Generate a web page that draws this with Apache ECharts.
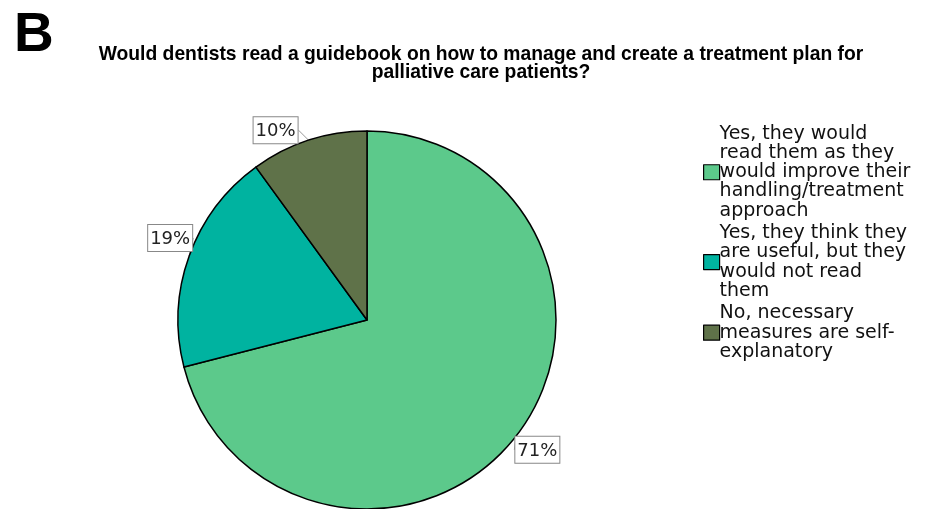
<!DOCTYPE html>
<html>
<head>
<meta charset="utf-8">
<script src="https://cdn.jsdelivr.net/npm/echarts@6/dist/echarts.min.js"></script>
<style>
  html, body { margin: 0; padding: 0; background: #fff; }
  #chart { width: 930px; height: 509px; }
</style>
</head>
<body>
<div id="chart"></div>
<script>
// Survey answers and their shares (%)
const answers = [
  'Yes, they would\nread them as they\nwould improve their\nhandling/treatment\napproach',
  'Yes, they think they\nare useful, but they\nwould not read\nthem',
  'No, necessary\nmeasures are self-\nexplanatory'
];
const shares = [71, 19, 10];
const sliceColors = ['#5CC98B', '#00B3A0', '#5F7249'];

// small offsets of each value box from its slice's outer-arc anchor
const boxNudge = [[-1, 1], [3, -5], [-11, 3]];

const chart = echarts.init(document.getElementById('chart'));

chart.setOption({
  animation: false,
  backgroundColor: '#ffffff',
  title: [
    {
      text: 'B',
      left: 9,
      top: 3,
      textStyle: { fontFamily: 'Liberation Sans Narrow, Liberation Sans', fontWeight: 'bold', fontSize: 55, color: '#000' }
    },
    {
      text: 'Would dentists read a guidebook on how to manage and create a treatment plan for\npalliative care patients?',
      left: 476,
      top: 41,
      textAlign: 'center',
      textStyle: {
        fontFamily: 'Liberation Sans',
        fontWeight: 'bold',
        fontSize: 19.3,
        lineHeight: 18,
        color: '#000'
      }
    }
  ],
  legend: {
    orient: 'vertical',
    left: 698,
    top: 119,
    itemWidth: 16,
    itemHeight: 15,
    itemGap: 3,
    icon: 'rect',
    itemStyle: { borderColor: '#000', borderWidth: 1.2 },
    textStyle: {
      fontFamily: 'DejaVu Sans',
      fontSize: 19,
      lineHeight: 19.3,
      color: '#111',
      padding: [0, 0, 0, -5]
    },
    data: answers
  },
  series: [
    {
      type: 'pie',
      center: [367, 320],
      radius: 189,
      startAngle: 90,
      clockwise: true,
      avoidLabelOverlap: false,
      itemStyle: { borderColor: '#000', borderWidth: 1.5 },
      label: {
        show: true,
        position: 'outside',
        formatter: '{c}%',
        fontFamily: 'DejaVu Sans',
        fontSize: 18,
        color: '#222',
        backgroundColor: '#fff',
        borderColor: '#888',
        borderWidth: 1,
        padding: [5, 2, 3, 2],
        distanceToLabelLine: 0
      },
      labelLine: {
        show: true,
        length: 2,
        length2: 0,
        lineStyle: { color: '#999', width: 1 }
      },
      labelLayout: function (p) {
        const pts = p.labelLinePoints;
        if (!pts) return {};
        const a = pts[0];
        const n = boxNudge[p.dataIndex];
        const leftSide = a[0] < 367;
        return {
          x: a[0] + n[0],
          y: a[1] + n[1],
          align: leftSide ? 'right' : 'left',
          verticalAlign: leftSide ? 'bottom' : 'top'
        };
      },
      emphasis: { disabled: true },
      data: answers.map((name, i) => ({
        name: name,
        value: shares[i],
        itemStyle: { color: sliceColors[i] }
      }))
    }
  ]
});
</script>
</body>
</html>
